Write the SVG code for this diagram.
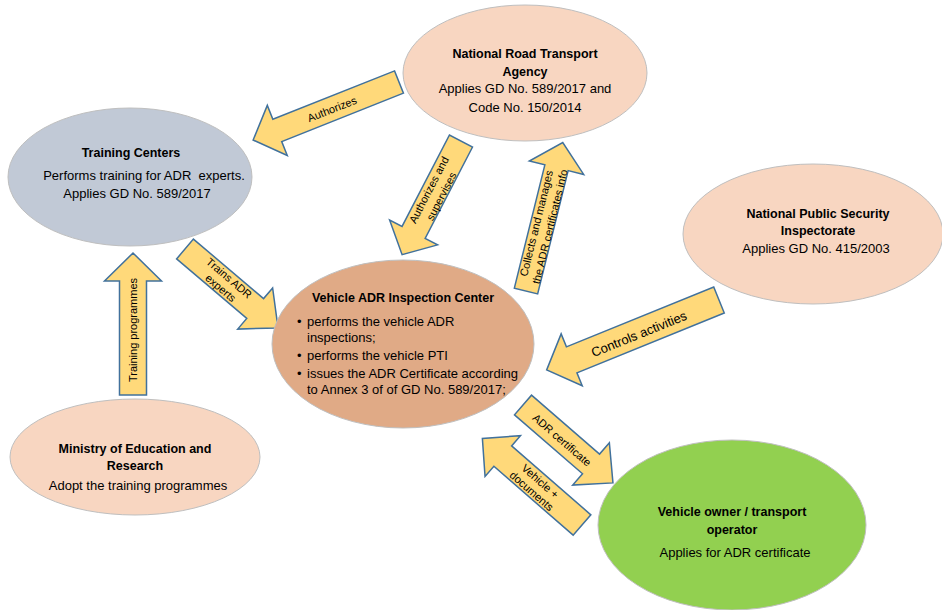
<svg xmlns="http://www.w3.org/2000/svg" width="942" height="610" viewBox="0 0 942 610">
<style>
text{font-family:"Liberation Sans",Arial,sans-serif;fill:#000}
.t{font-size:13px;text-anchor:middle}
.b{font-size:12.5px;font-weight:bold;text-anchor:middle}
.l{font-size:13px}
.a{font-size:11px;text-anchor:middle}
.peach{fill:#F8D6C1;stroke:#BFBFBF;stroke-width:1}
.arrow{fill:#FFD97A;stroke:#41719C;stroke-width:1.5;stroke-linejoin:miter}
</style>
<rect width="942" height="610" fill="#FFFFFF"/>

<g id="connectors">
  <polygon class="arrow" transform="translate(399,82) rotate(158.3)" points="0,-12 131,-12 131,-27 157,0 131,27 131,12 0,12"/>
  <text class="a" transform="translate(332,109) rotate(-21.7)" y="4">Authorizes</text>

  <polygon class="arrow" transform="translate(461,141) rotate(117.4)" points="0,-13 103,-13 103,-27 128,0 103,27 103,13 0,13"/>
  <text class="a" transform="translate(435,193) rotate(-62.6)"><tspan x="0" y="-3">Authorizes and</tspan><tspan x="0" y="11">supervises</tspan></text>

  <polygon class="arrow" transform="translate(526,291) rotate(-76.1)" points="0,-12 127,-12 127,-28 153,0 127,28 127,12 0,12"/>
  <text class="a" transform="translate(543,225) rotate(-76.1)"><tspan x="0" y="-3">Collects and manages</tspan><tspan x="0" y="11">the ADR certificates info</tspan></text>

  <polygon class="arrow" transform="translate(185,249) rotate(40.3)" points="0,-13 92,-13 92,-27 122,0 92,27 92,13 0,13"/>
  <text class="a" transform="translate(225,283) rotate(40.3)"><tspan x="0" y="-2.5">Trains ADR</tspan><tspan x="0" y="10.5">experts</tspan></text>

  <polygon class="arrow" transform="translate(133,395) rotate(-90)" points="0,-13.5 114,-13.5 114,-28.5 142,0 114,28.5 114,13.5 0,13.5"/>
  <text class="a" transform="translate(133,330) rotate(-90)" y="4">Training programmes</text>

  <polygon class="arrow" transform="translate(719,300) rotate(157.9)" points="0,-14 159,-14 159,-28 186,0 159,28 159,14 0,14"/>
  <text class="t" transform="translate(639,334) rotate(-22.1)" y="4.5">Controls activities</text>

  <polygon class="arrow" transform="translate(523,405) rotate(40.9)" points="0,-13 90,-13 90,-28 119,0 90,28 90,13 0,13"/>
  <text class="a" transform="translate(562,440) rotate(40.9)" y="4">ADR certificate</text>

  <polygon class="arrow" transform="translate(582,525) rotate(-139)" points="0,-13.5 105,-13.5 105,-27 132,0 105,27 105,13.5 0,13.5"/>
  <text class="a" transform="translate(536,486) rotate(41)"><tspan x="0" y="-2.5">Vehicle +</tspan><tspan x="0" y="10.5">documents</tspan></text>
</g>

<g id="nrta">
  <ellipse class="peach" cx="525" cy="73" rx="122" ry="68"/>
  <text class="b" x="525" y="57.5">National Road Transport</text>
  <text class="b" x="525" y="75.5">Agency</text>
  <text class="t" x="525" y="92.5">Applies GD No. 589/2017 and</text>
  <text class="t" x="525" y="111.5">Code No. 150/2014</text>
</g>

<g id="training-centers">
  <ellipse cx="130" cy="177" rx="122" ry="69" fill="#C1C9D6" stroke="#BFBFBF" stroke-width="1"/>
  <text class="b" x="131" y="157">Training Centers</text>
  <text class="t" x="144" y="180" style="white-space:pre" xml:space="preserve">Performs training for ADR  experts.</text>
  <text class="t" x="137" y="198">Applies GD No. 589/2017</text>
</g>

<g id="npsi">
  <ellipse class="peach" cx="813" cy="234" rx="130" ry="70"/>
  <text class="b" x="818" y="218">National Public Security</text>
  <text class="b" x="818" y="235">Inspectorate</text>
  <text class="t" x="816" y="253">Applies GD No. 415/2003</text>
</g>

<g id="vadr-center">
  <ellipse cx="403" cy="344" rx="131" ry="84" fill="#E0AA86" stroke="#BFBFBF" stroke-width="1"/>
  <text class="b" x="403" y="302">Vehicle ADR Inspection Center</text>
  <text class="l" x="297" y="326">•</text>
  <text class="l" x="307" y="326">performs the vehicle ADR</text>
  <text class="l" x="307" y="342">inspections;</text>
  <text class="l" x="297" y="360">•</text>
  <text class="l" x="307" y="360">performs the vehicle PTI</text>
  <text class="l" x="297" y="378">•</text>
  <text class="l" x="307" y="378">issues the ADR Certificate according</text>
  <text class="l" x="307" y="394">to Annex 3 of of GD No. 589/2017;</text>
</g>

<g id="ministry">
  <ellipse class="peach" cx="135" cy="457" rx="125" ry="58"/>
  <text class="b" x="135" y="453">Ministry of Education and</text>
  <text class="b" x="135" y="470">Research</text>
  <text class="t" x="138" y="490">Adopt the training programmes</text>
</g>

<g id="vehicle-owner">
  <ellipse cx="732" cy="525" rx="134" ry="85" fill="#92D050" stroke="#BFBFBF" stroke-width="1"/>
  <text class="b" x="732" y="516">Vehicle owner / transport</text>
  <text class="b" x="732" y="534">operator</text>
  <text class="t" x="735" y="557">Applies for ADR certificate</text>
</g>
</svg>
